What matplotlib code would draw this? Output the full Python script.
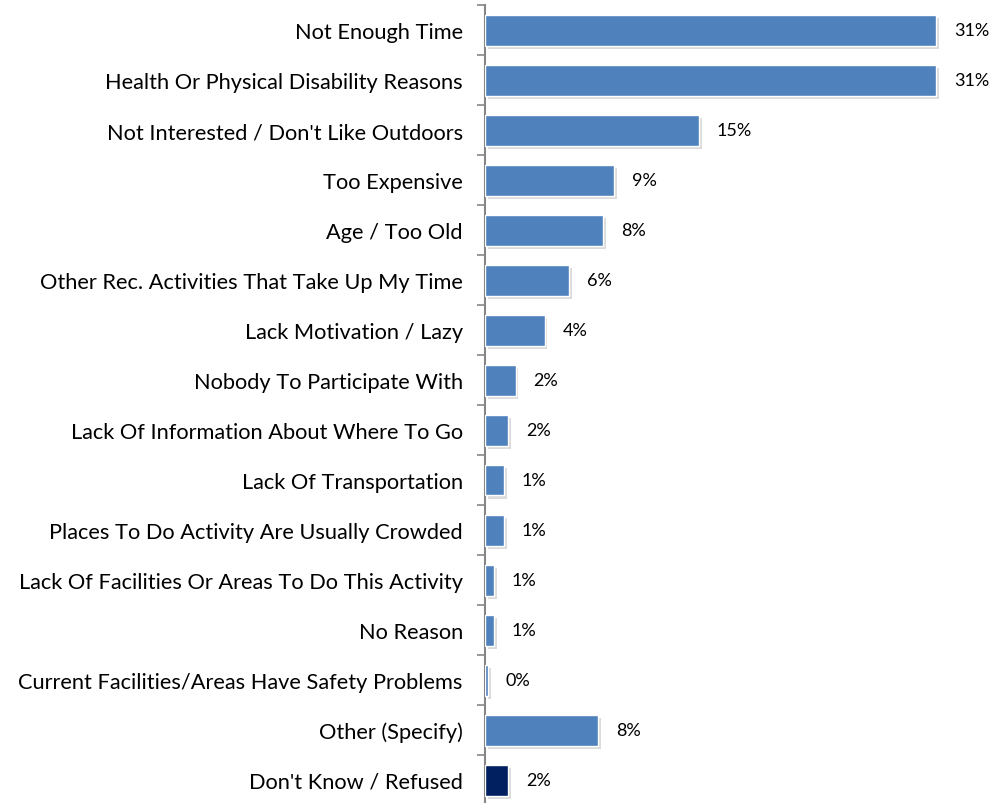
import matplotlib
matplotlib.use("Agg")
import matplotlib.pyplot as plt
import matplotlib.patheffects as pe
import numpy as np

# Reasons for not participating, top to bottom
categories = [
    "Not Enough Time",
    "Health Or Physical Disability Reasons",
    "Not Interested / Don't Like Outdoors",
    "Too Expensive",
    "Age / Too Old",
    "Other Rec. Activities That Take Up My Time",
    "Lack Motivation / Lazy",
    "Nobody To Participate With",
    "Lack Of Information About Where To Go",
    "Lack Of Transportation",
    "Places To Do Activity Are Usually Crowded",
    "Lack Of Facilities Or Areas To Do This Activity",
    "No Reason",
    "Current Facilities/Areas Have Safety Problems",
    "Other (Specify)",
    "Don't Know / Refused",
]
percent = [31.0, 31.0, 14.7, 8.9, 8.1, 5.8, 4.1, 2.1, 1.6, 1.3, 1.3, 0.6, 0.6, 0.2, 7.8, 1.6]

BLUE = "#4F81BD"
NAVY = "#002060"

plt.rcParams["font.family"] = ["Lato", "DejaVu Sans"]

fig = plt.figure(figsize=(10.07, 8.04), dpi=100)
ax = fig.add_axes([485 / 1007, -2 / 804, 509 / 1007, 800 / 804])

n = len(categories)
y = np.arange(n)
colors = [BLUE] * (n - 1) + [NAVY]

shadow = [pe.SimplePatchShadow(offset=(2, -2.5), shadow_rgbFace="#9a9a9a", alpha=0.35),
          pe.Normal()]
bars = ax.barh(y, percent, height=0.62, color=colors, edgecolor="white",
               linewidth=1.0, zorder=3)
for b in bars:
    b.set_path_effects(shadow)

for yi, v in zip(y, percent):
    ax.annotate(f"{round(v)}%", xy=(v, yi), xytext=(13, 0), textcoords="offset points",
                va="center", ha="left", fontsize=13, color="black")

ax.set_xlim(0, 35)
ax.set_ylim(n - 0.5, -0.5)

# labels at bar centres, tick marks at the category boundaries
ax.set_yticks(y)
ax.set_yticklabels(categories, fontsize=15.7)
ax.tick_params(axis="y", which="major", length=0, pad=16)
ax.set_yticks(np.arange(n + 1) - 0.5, minor=True)
ax.tick_params(axis="y", which="minor", length=5.5, width=1.2, color="#868686",
               direction="out")

ax.set_xticks([])
for side in ("top", "right", "bottom"):
    ax.spines[side].set_visible(False)
ax.spines["left"].set_color("#868686")
ax.spines["left"].set_linewidth(1.5)

fig.savefig("out.png", dpi=100)
